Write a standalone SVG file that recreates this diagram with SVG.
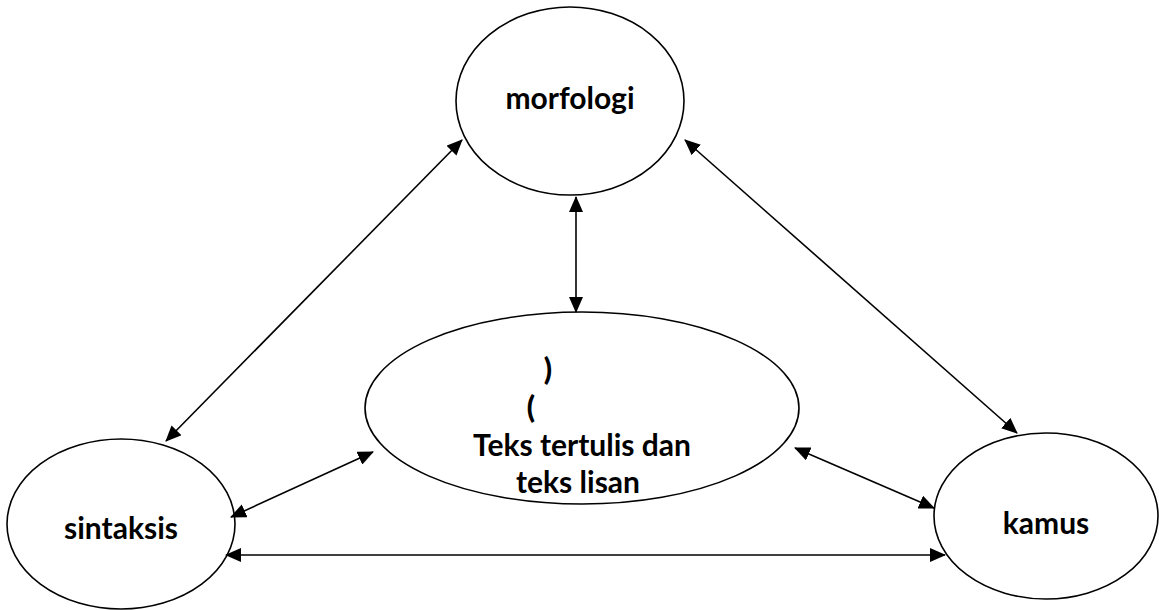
<svg xmlns="http://www.w3.org/2000/svg" width="1159" height="610" viewBox="0 0 1159 610">
<style>
.node{fill:#fff;stroke:#000;stroke-width:1.6}
.lbl{font-family:Lato,"Open Sans",sans-serif;font-weight:bold;font-size:30px;fill:#000;text-anchor:middle}
.par{font-family:Lato,"Open Sans",sans-serif;font-weight:900;font-size:30px;fill:#000;text-anchor:middle}
.conn line{stroke:#000;stroke-width:1.6;marker-start:url(#ah);marker-end:url(#ah)}
</style>
<defs>
<marker id="ah" markerUnits="userSpaceOnUse" markerWidth="16" markerHeight="14" viewBox="0 0 16 14" refX="15" refY="7" orient="auto-start-reverse">
<path d="M0,0 L16,7 L0,14 z" fill="#000"/>
</marker>
<clipPath id="clipc"><rect x="360" y="300" width="450" height="193"/></clipPath>
</defs>
<rect width="1159" height="610" fill="#fff"/>
<g id="morfologi">
<ellipse class="node" cx="570" cy="101" rx="114" ry="94"/>
<text class="lbl" x="570" y="109">morfologi</text>
</g>
<g id="center">
<ellipse class="node" cx="582" cy="408" rx="217" ry="96"/>
<text class="par" x="548" y="380">)</text>
<text class="par" x="531" y="418">(</text>
<g clip-path="url(#clipc)">
<text class="lbl" x="582" y="456">Teks tertulis dan</text>
<text class="lbl" x="578" y="493">teks lisan</text>
</g>
</g>
<g id="sintaksis">
<ellipse class="node" cx="121" cy="524" rx="114" ry="85"/>
<text class="lbl" x="121" y="539">sintaksis</text>
</g>
<g id="kamus">
<ellipse class="node" cx="1046" cy="516" rx="112" ry="83"/>
<text class="lbl" x="1046" y="534">kamus</text>
</g>
<g id="connectors" class="conn">
<line x1="166" y1="441" x2="462" y2="140"/>
<line x1="685" y1="140" x2="1017" y2="433"/>
<line x1="576" y1="197" x2="576" y2="312"/>
<line x1="231" y1="517" x2="373" y2="452"/>
<line x1="795" y1="448" x2="934" y2="508"/>
<line x1="226" y1="555" x2="945" y2="555"/>
</g>
</svg>
